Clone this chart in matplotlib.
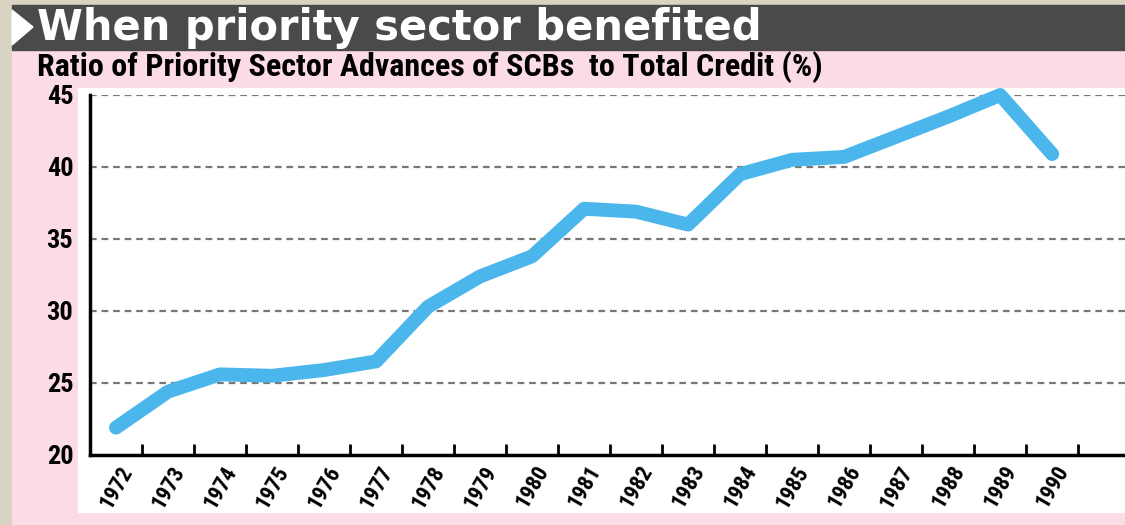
import matplotlib.pyplot as plt
import matplotlib.patches as patches
from matplotlib.ticker import FixedLocator

# data
years = [str(y) for y in range(1972, 1991)]
ratio = [21.9, 24.4, 25.6, 25.5, 25.9, 26.5, 30.3, 32.4, 33.8, 37.1,
         36.9, 36.0, 39.5, 40.5, 40.7, 42.1, 43.5, 45.0, 40.9]
y_ticks = [20, 25, 30, 35, 40, 45]

title = "When priority sector benefited"
subtitle = "Ratio of Priority Sector Advances of SCBs  to Total Credit (%)"

narrow = ["Liberation Sans Narrow", "Roboto Condensed", "Liberation Sans"]

fig = plt.figure(figsize=(11.25, 5.25), dpi=100)
fig.patch.set_facecolor("#d9d4c1")

# pink panel, dark title bar, white plot backdrop
fig.add_artist(patches.Rectangle((12 / 1125, 0), 1, 1 - 50 / 525,
                                 transform=fig.transFigure, color="#fadbe6", zorder=0))
fig.add_artist(patches.Rectangle((12 / 1125, 1 - 50 / 525), 1, 45 / 525,
                                 transform=fig.transFigure, color="#4a4a4a", zorder=0))
fig.add_artist(patches.Rectangle((78 / 1125, 1 - 512 / 525), 1, (512 - 88) / 525,
                                 transform=fig.transFigure, color="white", zorder=0))
fig.add_artist(patches.Polygon([(12 / 1125, 1 - 10 / 525), (33 / 1125, 1 - 27 / 525),
                                (12 / 1125, 1 - 45 / 525)],
                               transform=fig.transFigure, color="white", zorder=1))

fig.text(37 / 1125, 1 - 28 / 525, title, color="white", fontsize=30,
         fontweight="heavy", family="DejaVu Sans", va="center", ha="left")
fig.text(37 / 1125, 1 - 67 / 525, subtitle, color="black", fontsize=23,
         fontweight="bold", family=narrow, va="center", ha="left")

ax = fig.add_axes([90 / 1125, 1 - 455 / 525, 1 - 90 / 1125, (455 - 95) / 525])
ax.set_facecolor("none")

x = list(range(len(years)))
ax.plot(x, ratio, color="#4ab6ec", lw=10, solid_capstyle="round",
        solid_joinstyle="round", clip_on=False, zorder=3)

ax.set_ylim(20, 45)
ax.set_xlim(-0.5, 19.4)
ax.set_yticks(y_ticks)
ax.set_yticklabels([str(v) for v in y_ticks], fontsize=19, fontweight="bold", family=narrow)
ax.tick_params(axis="y", length=0, pad=12)

for v in y_ticks[1:]:
    ax.axhline(v, color="#777777", lw=1.6, ls=(0, (3, 2.2)), zorder=1)

# tick marks sit between the years, labels sit on the years
ax.xaxis.set_major_locator(FixedLocator([i + 0.5 for i in range(20)]))
ax.xaxis.set_major_formatter(plt.NullFormatter())
ax.xaxis.set_minor_locator(FixedLocator(x))
ax.set_xticklabels(years, minor=True, rotation=60, ha="center", va="top",
                   fontsize=16, fontweight="bold", family=narrow)
ax.tick_params(axis="x", which="major", direction="in", length=8, width=2)
ax.tick_params(axis="x", which="minor", length=0, pad=5)

for s in ["top", "right"]:
    ax.spines[s].set_visible(False)
ax.spines["left"].set_linewidth(2.5)
ax.spines["bottom"].set_linewidth(2.5)

fig.savefig("out.png", dpi=100, facecolor=fig.get_facecolor())
